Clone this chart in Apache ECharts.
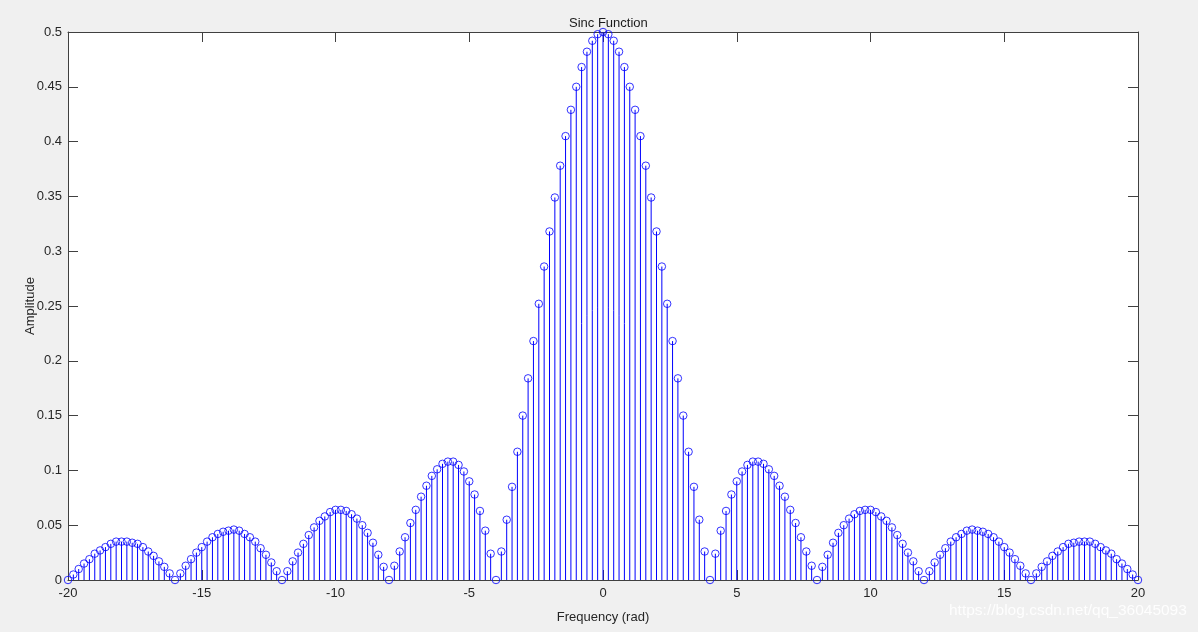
<!DOCTYPE html>
<html>
<head>
<meta charset="utf-8">
<script src="https://cdn.jsdelivr.net/npm/echarts@6/dist/echarts.min.js"></script>
<style>
html,body{margin:0;padding:0;background:#f0f0f0;}
#chart{width:1198px;height:632px;}
</style>
</head>
<body>
<div id="chart"></div>
<script>
// Sample frequencies (rad)
const frequency = [
-20,-19.8,-19.6,-19.4,-19.2,-19,-18.8,-18.6,-18.4,-18.2,
-18,-17.8,-17.6,-17.4,-17.2,-17,-16.8,-16.6,-16.4,-16.2,
-16,-15.8,-15.6,-15.4,-15.2,-15,-14.8,-14.6,-14.4,-14.2,
-14,-13.8,-13.6,-13.4,-13.2,-13,-12.8,-12.6,-12.4,-12.2,
-12,-11.8,-11.6,-11.4,-11.2,-11,-10.8,-10.6,-10.4,-10.2,
-10,-9.8,-9.6,-9.4,-9.2,-9,-8.8,-8.6,-8.4,-8.2,
-8,-7.8,-7.6,-7.4,-7.2,-7,-6.8,-6.6,-6.4,-6.2,
-6,-5.8,-5.6,-5.4,-5.2,-5,-4.8,-4.6,-4.4,-4.2,
-4,-3.8,-3.6,-3.4,-3.2,-3,-2.8,-2.6,-2.4,-2.2,
-2,-1.8,-1.6,-1.4,-1.2,-1,-0.8,-0.6,-0.4,-0.2,
0,
0.2,0.4,0.6,0.8,1,1.2,1.4,1.6,1.8,2,
2.2,2.4,2.6,2.8,3,3.2,3.4,3.6,3.8,4,
4.2,4.4,4.6,4.8,5,5.2,5.4,5.6,5.8,6,
6.2,6.4,6.6,6.8,7,7.2,7.4,7.6,7.8,8,
8.2,8.4,8.6,8.8,9,9.2,9.4,9.6,9.8,10,
10.2,10.4,10.6,10.8,11,11.2,11.4,11.6,11.8,12,
12.2,12.4,12.6,12.8,13,13.2,13.4,13.6,13.8,14,
14.2,14.4,14.6,14.8,15,15.2,15.4,15.6,15.8,16,
16.2,16.4,16.6,16.8,17,17.2,17.4,17.6,17.8,18,
18.2,18.4,18.6,18.8,19,19.2,19.4,19.6,19.8,20
];
// Amplitude
const amplitude = [
0,0.005,0.010,0.015,0.019,0.024,0.027,0.030,0.033,0.035,
0.035,0.035,0.034,0.033,0.030,0.026,0.022,0.017,0.012,0.006,
0,0.006,0.013,0.019,0.025,0.030,0.035,0.039,0.042,0.044,
0.045,0.046,0.045,0.042,0.039,0.035,0.029,0.023,0.016,0.008,
0,0.008,0.017,0.025,0.033,0.041,0.048,0.054,0.058,0.062,
0.064,0.064,0.063,0.060,0.056,0.050,0.043,0.034,0.023,0.012,
0,0.013,0.026,0.039,0.052,0.064,0.076,0.086,0.095,0.101,
0.106,0.108,0.108,0.105,0.099,0.090,0.078,0.063,0.045,0.024,
0,0.026,0.055,0.085,0.117,0.150,0.184,0.218,0.252,0.286,
0.318,0.349,0.378,0.405,0.429,0.450,0.468,0.482,0.492,0.498,
0.5,
0.498,0.492,0.482,0.468,0.450,0.429,0.405,0.378,0.349,0.318,
0.286,0.252,0.218,0.184,0.150,0.117,0.085,0.055,0.026,0,
0.024,0.045,0.063,0.078,0.090,0.099,0.105,0.108,0.108,0.106,
0.101,0.095,0.086,0.076,0.064,0.052,0.039,0.026,0.013,0,
0.012,0.023,0.034,0.043,0.050,0.056,0.060,0.063,0.064,0.064,
0.062,0.058,0.054,0.048,0.041,0.033,0.025,0.017,0.008,0,
0.008,0.016,0.023,0.029,0.035,0.039,0.042,0.045,0.046,0.045,
0.044,0.042,0.039,0.035,0.030,0.025,0.019,0.013,0.006,0,
0.006,0.012,0.017,0.022,0.026,0.030,0.033,0.034,0.035,0.035,
0.035,0.033,0.030,0.027,0.024,0.019,0.015,0.010,0.005,0
];
const xTicks = [-20,-15,-10,-5,0,5,10,15,20];
const yTicks = [0,0.05,0.1,0.15,0.2,0.25,0.3,0.35,0.4,0.45,0.5];
const titleText = 'Sinc Function';
const xName = 'Frequency (rad)';
const yName = 'Amplitude';
const watermark = 'https://blog.csdn.net/qq_36045093';

const points = frequency.map((f, i) => [f, amplitude[i]]);
const FONT = '"Liberation Sans", Arial, Helvetica, sans-serif';
const AX = '#404040';
const TXT = '#262626';

const chart = echarts.init(document.getElementById('chart'), null, {renderer: 'canvas'});
function axisCommon() {
  return {
    axisLine: {show: true, onZero: false, lineStyle: {color: AX, width: 1}},
    axisTick: {show: true, inside: true, length: 10, lineStyle: {color: AX}},
    splitLine: {show: false}
  };
}
chart.setOption({
  backgroundColor: '#f0f0f0',
  animation: false,
  title: {
    text: titleText, left: 564, top: 12,
    textStyle: {fontFamily: FONT, fontSize: 13, fontWeight: 'normal', color: '#1a1a1a'}
  },
  grid: {left: 68, right: 60, top: 32, bottom: 52, show: true, backgroundColor: '#ffffff', borderWidth: 0},
  xAxis: [
    Object.assign(axisCommon(), {
      type: 'value', position: 'bottom', min: xTicks[0], max: xTicks[xTicks.length-1], interval: 5,
      name: xName, nameLocation: 'middle', nameGap: 31, nameMoveOverlap: false,
      nameTextStyle: {fontFamily: FONT, fontSize: 13, color: TXT},
      axisLabel: {fontFamily: FONT, fontSize: 13, color: TXT, margin: 7}
    }),
    Object.assign(axisCommon(), {
      type: 'value', position: 'top', min: xTicks[0], max: xTicks[xTicks.length-1], interval: 5,
      axisLabel: {show: false}
    })
  ],
  yAxis: [
    Object.assign(axisCommon(), {
      type: 'value', position: 'left', min: yTicks[0], max: yTicks[yTicks.length-1], interval: 0.05,
      name: yName, nameLocation: 'middle', nameGap: 31, nameMoveOverlap: false,
      nameTextStyle: {fontFamily: FONT, fontSize: 13, color: TXT},
      axisLabel: {fontFamily: FONT, fontSize: 13, color: TXT, margin: 6,
        formatter: v => String(parseFloat(v.toFixed(2)))}
    }),
    Object.assign(axisCommon(), {
      type: 'value', position: 'right', min: yTicks[0], max: yTicks[yTicks.length-1], interval: 0.05,
      axisLabel: {show: false}
    })
  ],
  series: [
    {
      type: 'custom',
      data: points,
      clip: false,
      z: 3,
      renderItem: function (params, api) {
        const x = api.value(0), y = api.value(1);
        const p0 = api.coord([x, 0]);
        const p1 = api.coord([x, y]);
        return {
          type: 'line',
          shape: {x1: p0[0], y1: p0[1], x2: p1[0], y2: p1[1]},
          style: {stroke: '#0000ff', lineWidth: 1}
        };
      }
    },
    {
      type: 'scatter',
      data: points,
      clip: false,
      z: 4,
      symbol: 'circle',
      symbolSize: 7.5,
      itemStyle: {color: 'rgba(0,0,0,0)', borderColor: '#0000ff', borderWidth: 1},
      emphasis: {disabled: true}
    }
  ],
  graphic: [
    {
      type: 'text', left: 949, top: 603, z: 100,
      style: {text: watermark, fontFamily: FONT, fontSize: 15.5, fill: 'rgba(255,255,255,0.9)'}
    }
  ]
});
</script>
</body>
</html>
